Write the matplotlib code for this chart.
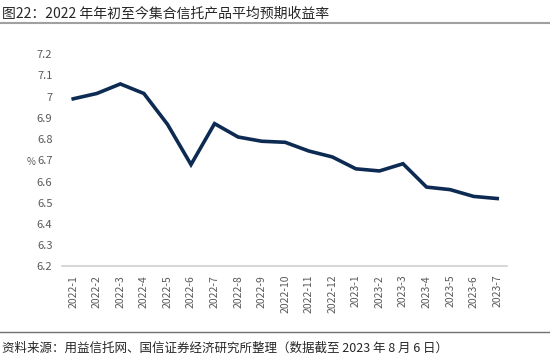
import matplotlib.pyplot as plt
from matplotlib.lines import Line2D

plt.rcParams['font.family'] = ['Noto Sans CJK SC', 'DejaVu Sans']

months = ['2022-1', '2022-2', '2022-3', '2022-4', '2022-5', '2022-6', '2022-7',
          '2022-8', '2022-9', '2022-10', '2022-11', '2022-12', '2023-1', '2023-2',
          '2023-3', '2023-4', '2023-5', '2023-6', '2023-7']
yields = [6.99, 7.015, 7.06, 7.015, 6.87, 6.68, 6.873, 6.81, 6.79, 6.785, 6.744,
          6.716, 6.66, 6.65, 6.684, 6.574, 6.562, 6.53, 6.52]
yticks = [6.2, 6.3, 6.4, 6.5, 6.6, 6.7, 6.8, 6.9, 7.0, 7.1, 7.2]

title = '图22：2022 年年初至今集合信托产品平均预期收益率'
source = '资料来源：用益信托网、国信证券经济研究所整理（数据截至 2023 年 8 月 6 日）'

fig = plt.figure(figsize=(5.5, 3.64), dpi=100)
ax = fig.add_axes([0.113, 0.268, 0.809, 0.583])

x = list(range(len(months)))
ax.plot(x, yields, color='#0d2b52', linewidth=2.6, solid_joinstyle='miter')

ax.set_ylim(6.2, 7.2)
ax.set_xlim(-0.47, len(months) - 0.58)
ax.set_yticks(yticks)
ax.set_yticklabels(['{:g}'.format(v) for v in yticks])
ax.set_xticks(x)
ax.set_xticklabels(months, rotation=90)
ax.tick_params(axis='both', length=0, colors='#595959')
ax.tick_params(axis='x', pad=6, labelsize=7.5)
ax.tick_params(axis='y', pad=7, labelsize=8)
for s in ['top', 'right', 'left']:
    ax.spines[s].set_visible(False)
ax.spines['bottom'].set_color('#d0d0d0')
ax.spines['bottom'].set_linewidth(1.2)
ax.set_ylabel('%', rotation=0, fontsize=7, color='#595959', va='center')
ax.yaxis.set_label_coords(-0.07, 0.49)

fig.text(0.003, 0.964, title, fontsize=10, color='#262626', va='center')
fig.add_artist(Line2D([0, 1], [0.938, 0.938], color='#a0a0a0', linewidth=1.5,
                      transform=fig.transFigure))
fig.add_artist(Line2D([0, 1], [0.088, 0.088], color='#707070', linewidth=1.0,
                      transform=fig.transFigure))
fig.text(0.003, 0.042, source, fontsize=9, color='#262626', va='center')

fig.savefig('out.png', dpi=100, facecolor='white')
